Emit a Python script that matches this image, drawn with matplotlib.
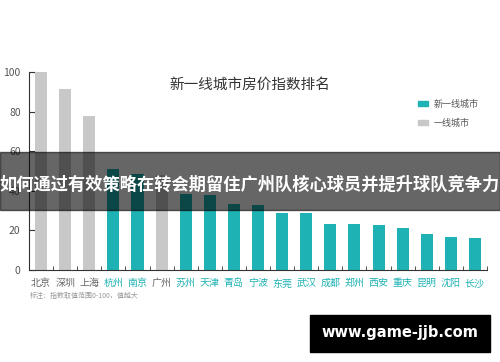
import numpy as np
import matplotlib.pyplot as plt
from matplotlib.patches import Rectangle

plt.rcParams['font.family'] = ['Noto Sans CJK SC', 'DejaVu Sans']

cities = ['北京', '深圳', '上海', '杭州', '南京', '广州', '苏州', '天津', '青岛', '宁波',
          '东莞', '武汉', '成都', '郑州', '西安', '重庆', '昆明', '沈阳', '长沙']
values = [100, 91.4, 77.8, 51, 48.5, 48, 38.5, 38, 33.3, 33,
          29, 28.8, 23.2, 23, 22.9, 21.2, 18.2, 16.8, 16.2]
tier1 = ['北京', '深圳', '上海', '广州']

teal = '#1fb2b4'
grey = '#c8c8c8'

fig = plt.figure(figsize=(5, 3.62), dpi=100)
ax = fig.add_axes([29/500, 1-270/362, 458/500, 198/362])

x = np.arange(len(cities))
colors = [grey if c in tier1 else teal for c in cities]
ax.bar(x, values, width=0.5, color=colors, zorder=2)

ax.set_xlim(-0.5, len(cities)-0.5)
ax.set_ylim(0, 100)
ax.set_yticks([0, 20, 40, 60, 80, 100])
ax.tick_params(axis='y', direction='in', length=5, labelsize=7.5, labelcolor='#555555', color='#333333', pad=6)
ax.set_xticks(x)
ax.set_xticklabels(cities, fontsize=7.2)
for lab, c in zip(ax.get_xticklabels(), cities):
    lab.set_color('#666666' if c in tier1 else teal)
ax.set_xticks(np.arange(len(cities)+1) - 0.5, minor=True)
ax.tick_params(axis='x', which='major', length=0, pad=6)
ax.tick_params(axis='x', which='minor', direction='in', length=3, color='#333333')
for s in ['top', 'right']:
    ax.spines[s].set_visible(False)
ax.spines['left'].set_color('#333333')
ax.spines['bottom'].set_color('#333333')

fig.text(0.5, 1-85/362, '新一线城市房价指数排名', ha='center', va='center', fontsize=10.5, color='#333333')

# legend
fig.patches.append(Rectangle((418/500, 1-106/362), 10/500, 5/362, transform=fig.transFigure, color=teal))
fig.patches.append(Rectangle((418/500, 1-125/362), 10/500, 5/362, transform=fig.transFigure, color=grey))
fig.text(434/500, 1-104/362, '新一线城市', fontsize=6.5, color='#555555', va='center')
fig.text(434/500, 1-123/362, '一线城市', fontsize=6.5, color='#555555', va='center')

fig.text(30/500, 1-296/362, '标注：指数取值范围0-100，值越大', fontsize=5, color='#999999', va='center')

# banner overlay
fig.patches.append(Rectangle((0, 1-210/362), 1, 58/362, transform=fig.transFigure,
                             color='black', alpha=0.6, zorder=10))
fig.text(0.5, 1-185/362, '如何通过有效策略在转会期留住广州队核心球员并提升球队竞争力',
         ha='center', va='center', fontsize=12.4, color='white', fontweight='bold', zorder=11)

# watermark
fig.patches.append(Rectangle((310/500, 1-352/362), 180/500, 37/362, transform=fig.transFigure,
                             color='black', zorder=10))
fig.text(400/500, 1-333/362, 'www.game-jjb.com', ha='center', va='center', fontsize=10.5,
         color='white', fontweight='bold', family='DejaVu Sans', zorder=11)

fig.savefig('out.png', dpi=100)
